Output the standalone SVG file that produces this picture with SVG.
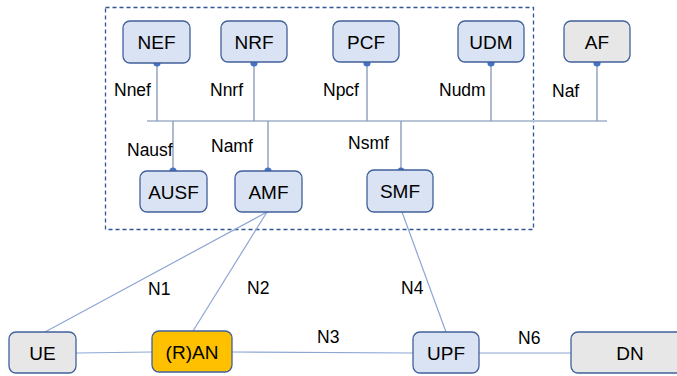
<svg xmlns="http://www.w3.org/2000/svg" width="677" height="376" viewBox="0 0 677 376">
<style>
.nf{fill:#dae3f3;stroke:#41609a;stroke-width:1.3}
.gf{fill:#e7e7e7;stroke:#41609a;stroke-width:1.3}
.of{fill:#ffc000;stroke:#41609a;stroke-width:1.3}
.nt{font-family:"Liberation Sans",Arial,sans-serif;font-size:19px;fill:#000;text-anchor:middle}
.lt{font-family:"Liberation Sans",Arial,sans-serif;font-size:17.5px;fill:#000}
.ln{stroke:#8ea6d4;stroke-width:1.2;fill:none}
.vl{stroke:#8496b4;stroke-width:1.3;fill:none}
.bus{stroke:#b7c3d6;stroke-width:2.2;fill:none}
.dot{fill:#4472c4}
</style>
<rect x="105.5" y="7.5" width="428" height="222" fill="none" stroke="#2f5597" stroke-width="1.3" stroke-dasharray="4,3"/>
<g id="connectors">
<line class="bus" x1="147" y1="121" x2="607" y2="121"/>
<line class="vl" x1="157" y1="63" x2="157" y2="121"/>
<line class="vl" x1="254" y1="63" x2="254" y2="121"/>
<line class="vl" x1="367" y1="63" x2="367" y2="121"/>
<line class="vl" x1="491" y1="63" x2="491" y2="121"/>
<line class="vl" x1="597" y1="63" x2="597" y2="121"/>
<line class="vl" x1="173" y1="121" x2="173" y2="171"/>
<line class="vl" x1="268" y1="121" x2="268" y2="171"/>
<line class="vl" x1="401" y1="121" x2="401" y2="171"/>
<line class="ln" x1="267" y1="212" x2="45" y2="332"/>
<line class="ln" x1="267" y1="212" x2="193" y2="331"/>
<line class="ln" x1="402" y1="212" x2="446" y2="332"/>
<line class="ln" x1="76" y1="353" x2="152" y2="352"/>
<line class="ln" x1="232" y1="352" x2="413" y2="353"/>
<line class="ln" x1="479" y1="353" x2="571" y2="353"/>
<circle class="dot" cx="157" cy="63" r="3.6"/>
<circle class="dot" cx="254" cy="63" r="3.6"/>
<circle class="dot" cx="367" cy="63" r="3.6"/>
<circle class="dot" cx="491" cy="63" r="3.6"/>
<circle class="dot" cx="597" cy="63" r="3.6"/>
<circle class="dot" cx="173" cy="171" r="3.6"/>
<circle class="dot" cx="268" cy="171" r="3.6"/>
<circle class="dot" cx="401" cy="171" r="3.6"/>
<text class="lt" x="114" y="96">Nnef</text>
<text class="lt" x="210" y="96">Nnrf</text>
<text class="lt" x="323" y="96">Npcf</text>
<text class="lt" x="439" y="96">Nudm</text>
<text class="lt" x="552" y="97">Naf</text>
<text class="lt" x="127" y="156">Nausf</text>
<text class="lt" x="211" y="152">Namf</text>
<text class="lt" x="348" y="149">Nsmf</text>
<text class="lt" x="148" y="295">N1</text>
<text class="lt" x="247" y="294">N2</text>
<text class="lt" x="317" y="343">N3</text>
<text class="lt" x="401" y="294">N4</text>
<text class="lt" x="518" y="344">N6</text>
</g>
<g id="NEF"><rect class="nf" x="123" y="21" width="67" height="42" rx="7"/><text class="nt" x="156.5" y="48.5">NEF</text></g>
<g id="NRF"><rect class="nf" x="221" y="21" width="66" height="41" rx="7"/><text class="nt" x="254" y="48.5">NRF</text></g>
<g id="PCF"><rect class="nf" x="333" y="21" width="66" height="41" rx="7"/><text class="nt" x="366" y="48.5">PCF</text></g>
<g id="UDM"><rect class="nf" x="458" y="21" width="66" height="41" rx="7"/><text class="nt" x="491" y="48.5">UDM</text></g>
<g id="AF"><rect class="gf" x="564" y="21" width="66" height="41" rx="7"/><text class="nt" x="597" y="48.5">AF</text></g>
<g id="AUSF"><rect class="nf" x="140" y="171" width="67" height="41" rx="7"/><text class="nt" x="173.5" y="198.5">AUSF</text></g>
<g id="AMF"><rect class="nf" x="235" y="171" width="67" height="41" rx="7"/><text class="nt" x="268.5" y="198.5">AMF</text></g>
<g id="SMF"><rect class="nf" x="367" y="170" width="66" height="42" rx="7"/><text class="nt" x="400" y="197.5">SMF</text></g>
<g id="UE"><rect class="gf" x="9" y="332" width="67" height="41" rx="7"/><text class="nt" x="42.5" y="359.5">UE</text></g>
<g id="RAN"><rect class="of" x="152" y="331" width="80" height="41" rx="7"/><text class="nt" x="192" y="358.5">(R)AN</text></g>
<g id="UPF"><rect class="nf" x="413" y="332" width="66" height="41" rx="7"/><text class="nt" x="446" y="359.5">UPF</text></g>
<g id="DN"><rect class="gf" x="571" y="332" width="118" height="41" rx="7"/><text class="nt" x="630" y="359.5">DN</text></g>
</svg>
